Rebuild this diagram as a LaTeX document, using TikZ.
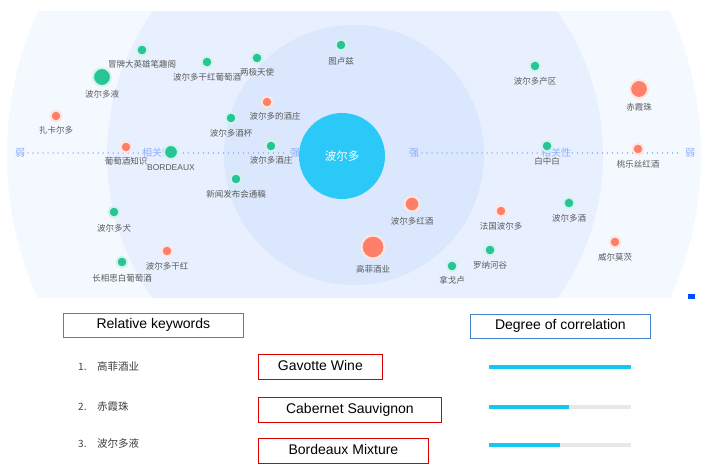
\documentclass[tikz,border=0pt]{standalone}
\usepackage{fontspec}
\setmainfont{Liberation Sans}
\newfontfamily\cjk{Noto Sans CJK SC}
\definecolor{gdot}{RGB}{38,196,150}
\definecolor{odot}{RGB}{255,128,106}
\definecolor{cen}{RGB}{43,201,247}
\definecolor{ringA}{RGB}{244,248,255}
\definecolor{ringB}{RGB}{232,240,255}
\definecolor{ringC}{RGB}{219,231,253}
\definecolor{axis}{RGB}{140,175,250}
\definecolor{lbl}{RGB}{90,90,90}
\definecolor{bluebox}{RGB}{70,130,200}
\definecolor{barc}{RGB}{20,200,240}
\definecolor{barg}{RGB}{232,232,232}
\tikzset{
 g/.style={circle,fill=gdot,draw=gdot!20,line width=2pt,inner sep=0pt,minimum size=11pt},
 o/.style={circle,fill=odot,draw=odot!20,line width=2pt,inner sep=0pt,minimum size=11pt},
 big/.style={minimum size=18pt},
 lab/.style={font=\cjk\fontsize{8.5}{9}\selectfont,text=lbl,inner sep=0pt},
 ax/.style={font=\cjk\fontsize{10}{11}\selectfont,text=axis,inner sep=0pt},
 hbox/.style={draw=bluebox,line width=0.8pt,font=\fontsize{14}{15}\selectfont,text height=10pt,text depth=3pt,minimum height=24pt,anchor=west,inner sep=0pt},
 rbox/.style={draw=red!85!black,line width=0.8pt,font=\fontsize{14}{15}\selectfont,text height=10pt,text depth=3pt,minimum height=25pt,anchor=west,inner sep=0pt},
 item/.style={font=\cjk\fontsize{10.5}{11}\selectfont,text=black!75,anchor=west,inner sep=0pt}
}
\begin{document}
\begin{tikzpicture}[x=1pt,y=-1pt]
\useasboundingbox (0,0) rectangle (708,473);
\fill[white] (0,0) rectangle (708,473);
\begin{scope}
\clip (0,12) rectangle (708,297);
\fill[ringA] (354,155) circle (347);
\fill[ringB] (355,155) circle (248);
\fill[ringC] (354,155) circle (130);
\end{scope}
\draw[axis,line width=1.3pt,dash pattern=on 0.01pt off 5pt,line cap=round] (28,153) -- (286,153);
\draw[axis,line width=1.3pt,dash pattern=on 0.01pt off 5pt,line cap=round] (422,153) -- (682,153);
\node[ax] (w1) at (20,153) {弱};
\node[ax,fill=ringB] (x1) at (157,153) {相关性};
\node[ax] (s1) at (295,153) {强};
\node[ax] (s2) at (414,153) {强};
\node[ax,fill=ringB] (x2) at (556,153) {相关性};
\node[ax] (w2) at (690,153) {弱};
\node[circle,fill=cen,minimum size=86pt,inner sep=0pt,text=white,font=\cjk\fontsize{11.5}{12}\selectfont] (c) at (342,156) {波尔多};
\node[g] (n1) at (142,50) {}; \node[lab] at (142,64) {冒牌大英雄笔趣阁};
\node[g,big] (n2) at (102,77) {}; \node[lab] at (102,94) {波尔多液};
\node[g] (n3) at (207,62) {}; \node[lab] at (207,77) {波尔多干红葡萄酒};
\node[g] (n4) at (257,58) {}; \node[lab] at (257,72) {两极天使};
\node[g] (n5) at (341,45) {}; \node[lab] at (341,61) {图卢兹};
\node[o] (n6) at (56,116) {}; \node[lab] at (56,130) {扎卡尔多};
\node[o] (n7) at (267,102) {}; \node[lab] at (275,116) {波尔多的酒庄};
\node[g] (n8) at (231,118) {}; \node[lab] at (231,133) {波尔多酒杯};
\node[o] (n9) at (126,147) {}; \node[lab] at (126,161) {葡萄酒知识};
\node[g,minimum size=14pt] (n10) at (171,152) {}; \node[lab,font=\fontsize{8.5}{9}\selectfont] at (171,168) {BORDEAUX};
\node[g] (n11) at (271,146) {}; \node[lab] at (271,160) {波尔多酒庄};
\node[g] (n12) at (236,179) {}; \node[lab] at (236,194) {新闻发布会通稿};
\node[g] (n13) at (114,212) {}; \node[lab] at (114,228) {波尔多犬};
\node[o] (n14) at (167,251) {}; \node[lab] at (167,266) {波尔多干红};
\node[g] (n15) at (122,262) {}; \node[lab] at (122,278) {长相思白葡萄酒};
\node[g] (n16) at (535,66) {}; \node[lab] at (535,81) {波尔多产区};
\node[o,big] (n17) at (639,89) {}; \node[lab] at (639,107) {赤霞珠};
\node[g] (n18) at (547,146) {}; \node[lab] at (547,161) {白中白};
\node[o] (n19) at (638,149) {}; \node[lab] at (638,164) {桃乐丝红酒};
\node[o,minimum size=15pt] (n20) at (412,204) {}; \node[lab] at (412,221) {波尔多红酒};
\node[o] (n21) at (501,211) {}; \node[lab] at (501,226) {法国波尔多};
\node[g] (n22) at (569,203) {}; \node[lab] at (569,218) {波尔多酒};
\node[o,minimum size=23pt] (n23) at (373,247) {}; \node[lab] at (373,269) {高菲酒业};
\node[g] (n24) at (490,250) {}; \node[lab] at (490,265) {罗纳河谷};
\node[g] (n25) at (452,266) {}; \node[lab] at (452,280) {拿戈卢};
\node[o] (n26) at (615,242) {}; \node[lab] at (615,257) {威尔莫茨};
\fill[blue!70!cyan] (688,294) rectangle (695,299);
% bottom
\node[hbox,minimum width=180pt] (h1) at (63,325) {Relative keywords};
\node[hbox,minimum width=180pt] (h2) at (470,326) {Degree of correlation};
\node[item] (i1) at (78,366) {{\fontsize{10}{11}\selectfont 1.}\quad 高菲酒业};
\node[item] (i2) at (78,406) {{\fontsize{10}{11}\selectfont 2.}\quad 赤霞珠};
\node[item] (i3) at (78,443) {{\fontsize{10}{11}\selectfont 3.}\quad 波尔多液};
\node[rbox,minimum width=124pt] (r1) at (258,366.5) {Gavotte Wine};
\node[rbox,minimum width=183pt] (r2) at (258,409.5) {Cabernet Sauvignon};
\node[rbox,minimum width=170pt] (r3) at (258,450.5) {Bordeaux Mixture};
\fill[barg] (489,365) rectangle (631,369);
\fill[barc] (489,365) rectangle (631,369);
\fill[barg] (489,405) rectangle (631,409);
\fill[barc] (489,405) rectangle (569,409);
\fill[barg] (489,443) rectangle (631,447);
\fill[barc] (489,443) rectangle (560,447);
\end{tikzpicture}
\end{document}
